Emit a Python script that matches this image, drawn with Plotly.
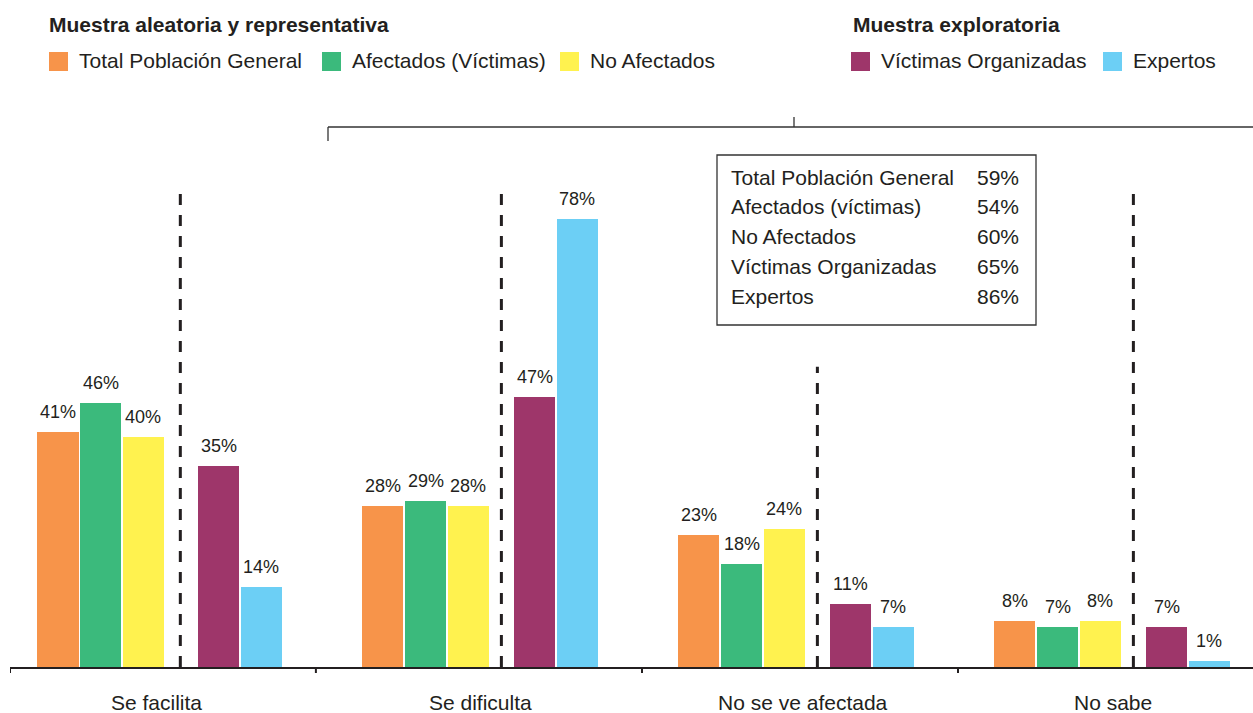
import plotly.graph_objects as go

# ---------------- data ----------------
categories = ["Se facilita", "Se dificulta", "No se ve afectada", "No sabe"]
series_names = ["Total Población General", "Afectados (Víctimas)", "No Afectados",
                "Víctimas Organizadas", "Expertos"]
total_poblacion = [41, 28, 23, 8]
afectados = [46, 29, 18, 7]
no_afectados = [40, 28, 24, 8]
victimas_org = [35, 47, 11, 7]
expertos = [14, 78, 7, 1]
box_labels = ["Total Población General", "Afectados (víctimas)", "No Afectados",
              "Víctimas Organizadas", "Expertos"]
box_values = [59, 54, 60, 65, 86]
group_titles = ["Muestra aleatoria y representativa", "Muestra exploratoria"]

# ---------------- style / layout ----------------
colors = ["#F7944A", "#3BBA7C", "#FFF24F", "#9E366A", "#6CCFF5"]
offsets = [-0.32, -0.185, -0.05, 0.16, 0.295]
trio_shift = [-0.028, 0.0, 0.0, 0.0]      # first sample block slightly left in group 1
divider_shift = [-0.016, 0.0, 0.0, 0.0]
label_shift = [-0.035, -0.012, 0.01, -0.01]
boundaries = [-0.5, 0.468, 1.5, 2.5]
divider_offset = 0.055
divider_tops = [83.1, 83.1, 52.3, 83.1]
bar_width = 0.13
FONT = "Liberation Sans, Arial, sans-serif"
TXT = "#231F20"

W, H = 1253, 713
ML, MR, MT, MB = 10, 0, 100, 46
PW, PH = W - ML - MR, H - MT - MB
px_per_pct = 5.74


def px(x):
    return (x - ML) / PW


def py(y):
    return (H - MB - y) / PH


values = [total_poblacion, afectados, no_afectados, victimas_org, expertos]

fig = go.Figure()
annotations = []
shapes = []

for s, (name, vals) in enumerate(zip(series_names, values)):
    xs = [i + offsets[s] + (trio_shift[i] if s < 3 else 0.0)
          for i in range(len(categories))]
    fig.add_trace(go.Bar(x=xs, y=vals, width=bar_width, name=name,
                         marker=dict(color=colors[s], line=dict(width=0)),
                         showlegend=False, hoverinfo="y"))
    for x, v in zip(xs, vals):
        annotations.append(dict(x=x, y=v, xref="x", yref="y", text=f"{v}%",
                                showarrow=False, yanchor="bottom", yshift=8,
                                font=dict(family=FONT, size=18, color=TXT)))

# dashed dividers
for i, top in enumerate(divider_tops):
    xd = i + divider_offset + divider_shift[i]
    shapes.append(dict(type="line", xref="x", yref="y", x0=xd, x1=xd, y0=0, y1=top,
                       line=dict(color=TXT, width=3, dash="11px,10px")))

# category boundary ticks
for b in boundaries:
    shapes.append(dict(type="line", xref="x", yref="paper", x0=b, x1=b,
                       y0=0, y1=-6 / PH, line=dict(color=TXT, width=2)))

# category labels
for i, c in enumerate(categories):
    annotations.append(dict(x=i + label_shift[i], y=0, xref="x", yref="y", text=c,
                            showarrow=False, yanchor="middle", yshift=-35,
                            font=dict(family=FONT, size=21, color=TXT)))

# legend titles
annotations.append(dict(x=px(47), y=py(24), xref="paper", yref="paper",
                        text=f"<b>{group_titles[0]}</b>", showarrow=False,
                        xanchor="left", yanchor="middle",
                        font=dict(family=FONT, size=21, color=TXT)))
annotations.append(dict(x=px(851), y=py(24), xref="paper", yref="paper",
                        text=f"<b>{group_titles[1]}</b>", showarrow=False,
                        xanchor="left", yanchor="middle",
                        font=dict(family=FONT, size=21, color=TXT)))

# legend items
legend_sq_x = [49, 322, 560, 851, 1103]
for s, name in enumerate(series_names):
    x0 = legend_sq_x[s]
    shapes.append(dict(type="rect", xref="paper", yref="paper",
                       x0=px(x0), x1=px(x0 + 19), y0=py(71), y1=py(52),
                       fillcolor=colors[s], line=dict(width=0)))
    annotations.append(dict(x=px(x0 + 28), y=py(61), xref="paper", yref="paper",
                            text=name, showarrow=False, xanchor="left",
                            yanchor="middle",
                            font=dict(family=FONT, size=21, color=TXT)))

# bracket
br = dict(color="#333333", width=1.3)
shapes.append(dict(type="line", xref="paper", yref="paper", x0=px(328), x1=px(1253),
                   y0=py(127), y1=py(127), line=br))
shapes.append(dict(type="line", xref="paper", yref="paper", x0=px(328), x1=px(328),
                   y0=py(127), y1=py(141), line=br))
shapes.append(dict(type="line", xref="paper", yref="paper", x0=px(794), x1=px(794),
                   y0=py(117), y1=py(127), line=br))

# summary box
shapes.append(dict(type="rect", xref="paper", yref="paper", x0=px(717), x1=px(1036),
                   y0=py(325), y1=py(155), line=dict(color="#333333", width=1.3),
                   fillcolor="white", layer="above"))
for r, (lab, val) in enumerate(zip(box_labels, box_values)):
    yc = 177 + r * 29.8
    annotations.append(dict(x=px(729), y=py(yc), xref="paper", yref="paper",
                            text=lab, showarrow=False, xanchor="left",
                            yanchor="middle",
                            font=dict(family=FONT, size=21, color=TXT)))
    annotations.append(dict(x=px(1021), y=py(yc), xref="paper", yref="paper",
                            text=f"{val}%", showarrow=False, xanchor="right",
                            yanchor="middle",
                            font=dict(family=FONT, size=21, color=TXT)))

fig.update_layout(
    width=W, height=H,
    margin=dict(l=ML, r=MR, t=MT, b=MB, pad=0),
    paper_bgcolor="white", plot_bgcolor="white",
    bargap=0, barmode="overlay",
    xaxis=dict(range=[-0.5, -0.5 + PW / 316], showgrid=False, zeroline=False,
               showticklabels=False, ticks="", showline=True,
               linecolor=TXT, linewidth=2, fixedrange=True),
    yaxis=dict(range=[0, PH / px_per_pct], showgrid=False, zeroline=False,
               showticklabels=False, ticks="", showline=False, fixedrange=True),
    shapes=shapes, annotations=annotations,
    font=dict(family=FONT, color=TXT),
)

fig.write_html("out.html", config={"displayModeBar": False},
               post_script="document.body.style.margin='0';")
